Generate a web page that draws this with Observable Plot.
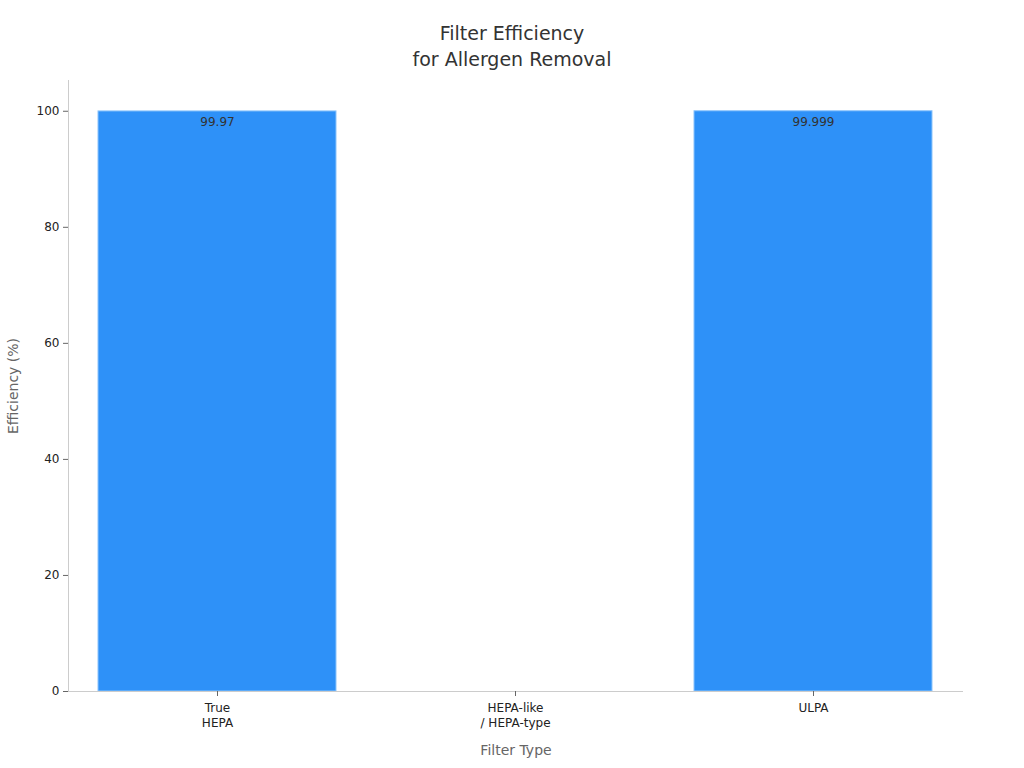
<!DOCTYPE html>
<html><head><meta charset="utf-8">
<script src="https://cdn.jsdelivr.net/npm/d3@7"></script>
<script src="https://cdn.jsdelivr.net/npm/@observablehq/plot@0.6"></script>
<style>
body{margin:0;background:#fff;font-family:"DejaVu Sans",sans-serif;}
#title{height:70px;text-align:center;font-size:19px;color:#333;line-height:26px;padding-top:0;box-sizing:border-box;}
#title div:first-child{padding-top:20px;}
</style></head><body>
<div id="title"><div>Filter Efficiency</div><div>for Allergen Removal</div></div>
<div id="chart"></div>
<script>
const categories = ["True\nHEPA", "HEPA-like\n/ HEPA-type", "ULPA"];
const values = [99.97, null, 99.999];
const labels = ["99.97", "", "99.999"];
const yTicks = [0, 20, 40, 60, 80, 100];

const data = categories.map((c, i) => ({cat: c, v: values[i], label: labels[i]}));

const chart = Plot.plot({
  width: 1024,
  height: 698,
  marginTop: 10,
  marginBottom: 77,
  marginLeft: 68,
  marginRight: 61,
  style: {fontFamily: "DejaVu Sans, sans-serif", fontSize: "12px", color: "#333", background: "#fff"},
  x: {domain: categories, paddingInner: 0.2, paddingOuter: 0.1, label: null},
  y: {domain: [0, 105.3], label: null},
  marks: [
    Plot.barY(data.filter(d => d.v != null), {x: "cat", y: "v", fill: "#2e91f8", stroke: "#8cc4fb", strokeWidth: 1}),
    Plot.text(data.filter(d => d.v != null), {x: "cat", y: "v", text: "label", dy: 11, fill: "#333", fontSize: 12}),
    Plot.frame({anchor: "left", stroke: "#ccc"}),
    Plot.ruleY([0], {stroke: "#ccc"}),
    Plot.axisY({ticks: yTicks, tickSize: 5, stroke: "#666", fill: "#222", fontSize: 12, label: null}),
    Plot.axisX({tickSize: 5, stroke: "#666", fill: "#222", fontSize: 12, tickPadding: 5, lineHeight: 1.25, label: null}),
    Plot.text(["Filter Type"], {frameAnchor: "bottom", dy: 63, fill: "#666", fontSize: 14}),
    Plot.text(["Efficiency (%)"], {frameAnchor: "left", textAnchor: "middle", dx: -55, rotate: -90, fill: "#666", fontSize: 14})
  ]
});
document.getElementById("chart").appendChild(chart);
</script>
</body></html>
